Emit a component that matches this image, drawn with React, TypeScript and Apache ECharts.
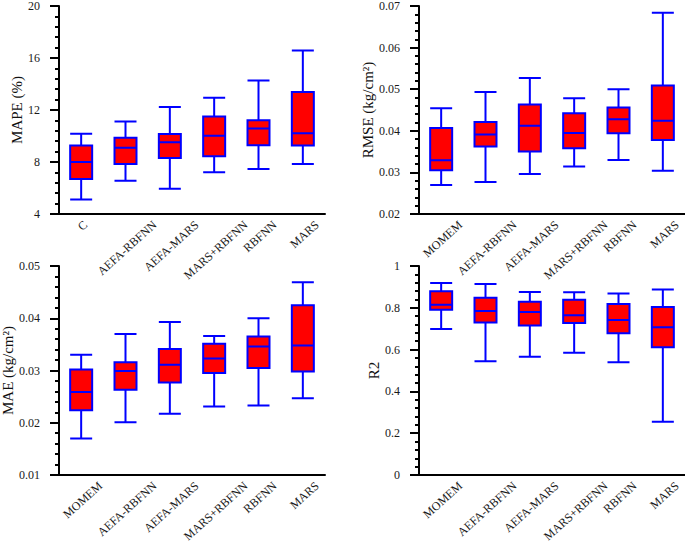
import React, { useEffect, useRef } from "react";
import * as echarts from "echarts";

const mapeCategories = ["C", "AEFA-RBFNN", "AEFA-MARS", "MARS+RBFNN", "RBFNN", "MARS"];
const modelCategories = ["MOMEM", "AEFA-RBFNN", "AEFA-MARS", "MARS+RBFNN", "RBFNN", "MARS"];

// [min, Q1, median, Q3, max]
const mapeValues = [
  [5.12, 6.7, 8.0, 9.26, 10.17],
  [6.55, 7.85, 9.1, 9.87, 11.12],
  [5.94, 8.31, 9.51, 10.15, 12.24],
  [7.21, 8.44, 10.02, 11.5, 12.95],
  [7.47, 9.28, 10.58, 11.22, 14.26],
  [7.85, 9.26, 10.22, 13.39, 16.58],
];
const rmseValues = [
  [0.027, 0.0305, 0.0329, 0.0407, 0.0454],
  [0.0277, 0.0362, 0.0391, 0.0421, 0.0493],
  [0.0296, 0.035, 0.0412, 0.0463, 0.0527],
  [0.0314, 0.0358, 0.0395, 0.0442, 0.0478],
  [0.033, 0.0394, 0.0428, 0.0456, 0.05],
  [0.0304, 0.0378, 0.0424, 0.0509, 0.0684],
];
const maeValues = [
  [0.017, 0.0224, 0.0259, 0.0302, 0.033],
  [0.0201, 0.0263, 0.0299, 0.0316, 0.037],
  [0.0217, 0.0277, 0.0311, 0.0341, 0.0393],
  [0.0231, 0.0295, 0.0323, 0.0351, 0.0366],
  [0.0233, 0.0305, 0.0346, 0.0365, 0.04],
  [0.0247, 0.0298, 0.0348, 0.0425, 0.0469],
];
const r2Values = [
  [0.699, 0.791, 0.815, 0.879, 0.919],
  [0.544, 0.73, 0.785, 0.848, 0.914],
  [0.566, 0.715, 0.78, 0.829, 0.876],
  [0.585, 0.727, 0.764, 0.839, 0.874],
  [0.539, 0.678, 0.742, 0.818, 0.869],
  [0.255, 0.611, 0.707, 0.804, 0.887],
];

const FONT = "'Liberation Serif', 'Times New Roman', serif";
const X_FONT_SIZE = 12;
const X_ROTATE = 42;

export default function App() {
  const ref = useRef<HTMLDivElement>(null);
  useEffect(() => {
    if (!ref.current) return;
    const chart = echarts.init(ref.current, undefined, { renderer: "svg" });

    const grids = [
      { left: 59, top: 6, width: 266, height: 208 },
      { left: 419, top: 6, width: 266, height: 208 },
      { left: 59, top: 266, width: 266, height: 209 },
      { left: 419, top: 266, width: 266, height: 209 },
    ].map((g) => ({ ...g, containLabel: false, outerBoundsMode: "none" }));

    const cats = [mapeCategories, modelCategories, modelCategories, modelCategories];
    const xAxes = cats.map((c, i) => ({
      type: "category",
      gridIndex: i,
      data: c,
      boundaryGap: true,
      axisLine: { show: true, lineStyle: { color: "#000", width: 2 } },
      axisTick: { show: false },
      splitLine: { show: false },
      axisLabel: { show: false },
    }));

    const yDefs = [
      { min: 4, max: 20, interval: 4, name: "MAPE (%)", gap: 33, fmt: (v: number) => String(v) },
      { min: 0.02, max: 0.07, interval: 0.01, name: "RMSE (kg/cm²)", gap: 44, fmt: (v: number) => v.toFixed(2) },
      { min: 0.01, max: 0.05, interval: 0.01, name: "MAE (kg/cm²)", gap: 43, fmt: (v: number) => v.toFixed(2) },
      { min: 0, max: 1, interval: 0.2, name: "R2", gap: 35, fmt: (v: number) => String(Math.round(v * 10) / 10) },
    ];
    const yAxes = yDefs.map((d, i) => ({
      type: "value",
      gridIndex: i,
      min: d.min,
      max: d.max,
      interval: d.interval,
      name: d.name,
      nameLocation: "middle",
      nameGap: d.gap,
      nameTextStyle: { fontFamily: FONT, fontSize: 15, color: "#111" },
      axisLine: { show: true, lineStyle: { color: "#000", width: 2 } },
      axisTick: { show: true, length: 9, inside: false, lineStyle: { color: "#000", width: 2 } },
      minorTick: { show: true, splitNumber: 5, length: 4, lineStyle: { color: "#000", width: 2 } },
      splitLine: { show: false },
      minorSplitLine: { show: false },
      axisLabel: {
        margin: 19,
        fontFamily: FONT,
        fontSize: 12,
        color: "#1a1a1a",
        formatter: d.fmt,
      },
    }));

    const datasets = [mapeValues, rmseValues, maeValues, r2Values];
    const series = datasets.map((data, i) => ({
      type: "boxplot",
      xAxisIndex: i,
      yAxisIndex: i,
      data,
      boxWidth: [22, 22],
      itemStyle: { color: "#ff0000", borderColor: "#0000ff", borderWidth: 2 },
    }));

    chart.setOption({
      animation: false,
      backgroundColor: "#fff",
      grid: grids,
      xAxis: xAxes,
      yAxis: yAxes,
      series,
    });

    // Rotated category labels: bounding box centred under each category,
    // top of the box a fixed distance below the axis line.
    const canvas = document.createElement("canvas");
    const ctx = canvas.getContext("2d")!;
    ctx.font = `${X_FONT_SIZE}px "Liberation Serif"`;
    const th = (X_ROTATE * Math.PI) / 180;
    const sn = Math.sin(th);
    const cs = Math.cos(th);
    const gap = 6;
    const glyphH = 8;
    const texts: any[] = [];
    cats.forEach((c, i) => {
      const axisY = chart.convertToPixel({ yAxisIndex: i } as any, yDefs[i].min) as number;
      c.forEach((name) => {
        const cx = chart.convertToPixel({ xAxisIndex: i } as any, name) as number;
        const L = ctx.measureText(name).width;
        const cy = axisY + gap + (L * sn + glyphH * cs) / 2;
        texts.push({
          type: "text",
          x: cx + 1.5,
          y: cy,
          rotation: th,
          silent: true,
          style: {
            text: name,
            fontFamily: FONT,
            fontSize: X_FONT_SIZE,
            fill: "#1a1a1a",
            align: "center",
            verticalAlign: "middle",
          },
        });
      });
    });
    chart.setOption({ graphic: texts });

    return () => chart.dispose();
  }, []);
  return (
    <div
      ref={ref}
      style={{ position: "fixed", left: 0, top: 0, width: 685, height: 543 }}
    />
  );
}
